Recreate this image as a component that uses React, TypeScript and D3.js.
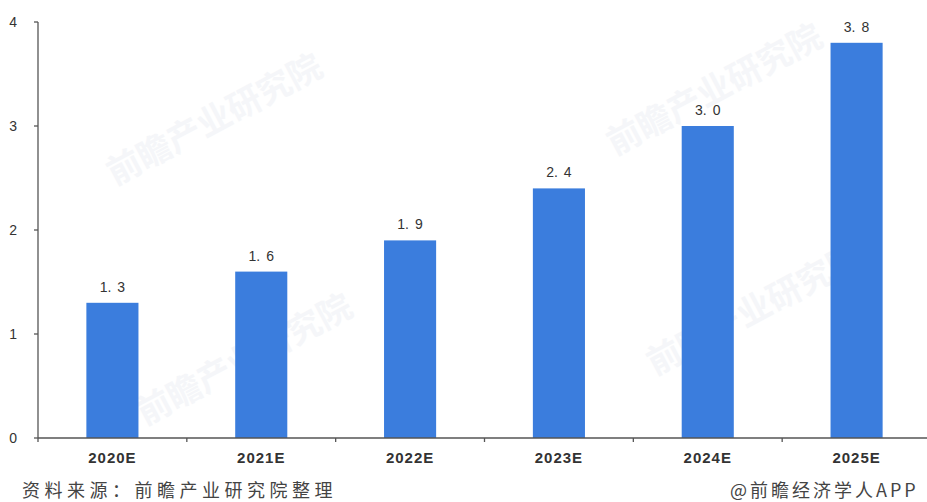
import React from 'react';
import * as d3 from 'd3';

const categories = ['2020E', '2021E', '2022E', '2023E', '2024E', '2025E'];
const values = [1.3, 1.6, 1.9, 2.4, 3.0, 3.8];
const yTicks = [0, 1, 2, 3, 4];
const sourceText = '资料来源：前瞻产业研究院整理';
const creditText = '@前瞻经济学人APP';
const watermark = '前瞻产业研究院';

const W = 927;
const H = 502;
const margin = { left: 38, top: 22, right: -4, bottom: 64 };
const font = '"Noto Sans CJK SC", "Noto Sans", sans-serif';
const latin = '"Liberation Sans", Arial, sans-serif';

// faint watermark spots
const marks = [
  { x: 220, y: 130 },
  { x: 250, y: 370 },
  { x: 720, y: 100 },
  { x: 760, y: 320 },
];

export default function App() {
  const x = d3.scaleBand<string>()
    .domain(categories)
    .range([margin.left, W - margin.right])
    .paddingInner(0.65)
    .paddingOuter(0.325);

  const y = d3.scaleLinear()
    .domain([0, 4])
    .range([H - margin.bottom, margin.top]);

  const step = x.step();
  const x0 = margin.left;
  const y0 = y(0);

  return (
    <svg
      width={W}
      height={H}
      style={{ position: 'absolute', left: 0, top: 0, background: '#fff' }}
      fontFamily={font}
    >
      {marks.map((m, i) => (
        <text
          key={'w' + i}
          x={m.x}
          y={m.y}
          transform={`rotate(-28 ${m.x} ${m.y})`}
          textAnchor="middle"
          fontSize={34}
          fontWeight={700}
          fill="#e3e8ee"
          opacity={0.35}
        >
          {watermark}
        </text>
      ))}

      {/* y axis */}
      <line x1={x0} x2={x0} y1={y(4)} y2={y0} stroke="#555" strokeWidth={1.3} />
      {yTicks.map(t => (
        <g key={t}>
          <line x1={x0 - 4} x2={x0} y1={y(t)} y2={y(t)} stroke="#555" strokeWidth={1.3} />
          <text x={17} y={y(t)} dy="0.35em" textAnchor="end" fontSize={14} fontFamily={latin} fill="#333">{t}</text>
        </g>
      ))}

      {/* bars */}
      {categories.map((c, i) => {
        const [whole, dec] = values[i].toFixed(1).split('.');
        return (
          <g key={c}>
            <rect
              x={x(c)}
              y={y(values[i])}
              width={x.bandwidth()}
              height={y0 - y(values[i])}
              fill="#3b7ddd"
            />
            <text
              x={(x(c) ?? 0) + x.bandwidth() / 2}
              y={y(values[i]) - 11}
              textAnchor="middle"
              fontSize={14}
              fontFamily={latin}
              fill="#333"
            >
              {whole + '.'}
              <tspan dx={6}>{dec}</tspan>
            </text>
            <text
              x={(x(c) ?? 0) + x.bandwidth() / 2}
              y={y0 + 25}
              textAnchor="middle"
              fontSize={15}
              fontWeight={700}
              fontFamily={latin}
              fill="#333"
              letterSpacing={1}
            >
              {c}
            </text>
          </g>
        );
      })}

      {/* x axis */}
      <line x1={x0} x2={W} y1={y0} y2={y0} stroke="#555" strokeWidth={1.3} />
      {categories.map((c, i) => (
        <line
          key={'t' + c}
          x1={x0 + step * i}
          x2={x0 + step * i}
          y1={y0}
          y2={y0 + 4}
          stroke="#555"
          strokeWidth={1.3}
        />
      ))}

      <text x={22} y={497} fontSize={18} fill="#444" letterSpacing={4.5}>{sourceText}</text>
      <text x={730} y={497} fontSize={18} fill="#444" letterSpacing={3}>{creditText}</text>
    </svg>
  );
}
